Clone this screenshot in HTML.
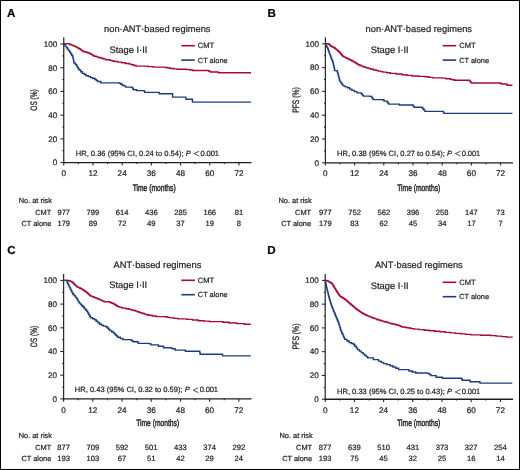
<!DOCTYPE html><html><head><meta charset="utf-8"><style>html,body{margin:0;padding:0;background:#fff;}svg{display:block;will-change:transform;} text{stroke:#231f20;stroke-width:0.22px;}</style></head><body>
<svg width="520" height="470" viewBox="0 0 520 470" font-family="&quot;Liberation Sans&quot;, sans-serif" fill="#231f20" text-rendering="geometricPrecision">
<rect x="0" y="0" width="520" height="470" fill="#fff"/>
<rect x="0.5" y="0.5" width="519" height="469" fill="none" stroke="#000" stroke-width="1"/>
<g><text x="7.00" y="17.10" font-size="11.6" font-weight="bold" fill="#000">A</text>
<text x="157.30" y="31.80" font-size="9.3" text-anchor="middle">non·ANT·based regimens</text>
<text x="109.40" y="52.80" font-size="9.4">Stage I·II</text>
<line x1="181.30" y1="45.70" x2="194.80" y2="45.70" stroke="#a60a33" stroke-width="1.6"/>
<line x1="181.30" y1="60.10" x2="194.80" y2="60.10" stroke="#1f3d7a" stroke-width="1.6"/>
<text x="197.80" y="48.10" font-size="7.6">CMT</text>
<text x="197.80" y="62.70" font-size="7.4">CT alone</text>
<line x1="63.75" y1="37.30" x2="63.75" y2="163.20" stroke="#2a2a2a" stroke-width="1.25"/>
<line x1="63.25" y1="162.60" x2="251.50" y2="162.60" stroke="#1e1e1e" stroke-width="1.35"/>
<line x1="60.45" y1="162.60" x2="63.75" y2="162.60" stroke="#222" stroke-width="1.05"/>
<text x="57.25" y="165.40" font-size="8.1" text-anchor="end">0</text>
<line x1="62.35" y1="150.74" x2="63.75" y2="150.74" stroke="#222" stroke-width="1.05"/>
<line x1="60.45" y1="138.88" x2="63.75" y2="138.88" stroke="#222" stroke-width="1.05"/>
<text x="57.25" y="141.68" font-size="8.1" text-anchor="end">20</text>
<line x1="62.35" y1="127.02" x2="63.75" y2="127.02" stroke="#222" stroke-width="1.05"/>
<line x1="60.45" y1="115.16" x2="63.75" y2="115.16" stroke="#222" stroke-width="1.05"/>
<text x="57.25" y="117.96" font-size="8.1" text-anchor="end">40</text>
<line x1="62.35" y1="103.30" x2="63.75" y2="103.30" stroke="#222" stroke-width="1.05"/>
<line x1="60.45" y1="91.44" x2="63.75" y2="91.44" stroke="#222" stroke-width="1.05"/>
<text x="57.25" y="94.24" font-size="8.1" text-anchor="end">60</text>
<line x1="62.35" y1="79.58" x2="63.75" y2="79.58" stroke="#222" stroke-width="1.05"/>
<line x1="60.45" y1="67.72" x2="63.75" y2="67.72" stroke="#222" stroke-width="1.05"/>
<text x="57.25" y="70.52" font-size="8.1" text-anchor="end">80</text>
<line x1="62.35" y1="55.86" x2="63.75" y2="55.86" stroke="#222" stroke-width="1.05"/>
<line x1="60.45" y1="44.00" x2="63.75" y2="44.00" stroke="#222" stroke-width="1.05"/>
<text x="57.25" y="46.80" font-size="8.1" text-anchor="end">100</text>
<line x1="63.75" y1="162.60" x2="63.75" y2="165.40" stroke="#222" stroke-width="1.05"/>
<text x="63.75" y="176.20" font-size="8.2" text-anchor="middle">0</text>
<line x1="78.35" y1="162.60" x2="78.35" y2="164.00" stroke="#222" stroke-width="1.05"/>
<line x1="92.95" y1="162.60" x2="92.95" y2="165.40" stroke="#222" stroke-width="1.05"/>
<text x="92.95" y="176.20" font-size="8.2" text-anchor="middle">12</text>
<line x1="107.55" y1="162.60" x2="107.55" y2="164.00" stroke="#222" stroke-width="1.05"/>
<line x1="122.15" y1="162.60" x2="122.15" y2="165.40" stroke="#222" stroke-width="1.05"/>
<text x="122.15" y="176.20" font-size="8.2" text-anchor="middle">24</text>
<line x1="136.75" y1="162.60" x2="136.75" y2="164.00" stroke="#222" stroke-width="1.05"/>
<line x1="151.35" y1="162.60" x2="151.35" y2="165.40" stroke="#222" stroke-width="1.05"/>
<text x="151.35" y="176.20" font-size="8.2" text-anchor="middle">36</text>
<line x1="165.95" y1="162.60" x2="165.95" y2="164.00" stroke="#222" stroke-width="1.05"/>
<line x1="180.55" y1="162.60" x2="180.55" y2="165.40" stroke="#222" stroke-width="1.05"/>
<text x="180.55" y="176.20" font-size="8.2" text-anchor="middle">48</text>
<line x1="195.15" y1="162.60" x2="195.15" y2="164.00" stroke="#222" stroke-width="1.05"/>
<line x1="209.75" y1="162.60" x2="209.75" y2="165.40" stroke="#222" stroke-width="1.05"/>
<text x="209.75" y="176.20" font-size="8.2" text-anchor="middle">60</text>
<line x1="224.35" y1="162.60" x2="224.35" y2="164.00" stroke="#222" stroke-width="1.05"/>
<line x1="238.95" y1="162.60" x2="238.95" y2="165.40" stroke="#222" stroke-width="1.05"/>
<text x="238.95" y="176.20" font-size="8.2" text-anchor="middle">72</text>
<text x="154.15" y="190.80" font-size="9.4" text-anchor="middle" textLength="43" lengthAdjust="spacingAndGlyphs" style="stroke-width:0.45px">Time (months)</text>
<text transform="translate(37.20,100.00) rotate(-90)" font-size="9.4" text-anchor="middle" textLength="21.4" lengthAdjust="spacingAndGlyphs" style="stroke-width:0.32px">OS (%)</text>
<text x="75.75" y="155.80" font-size="7.55">HR, 0.36 (95% CI, 0.24 to 0.54); <tspan font-style="italic">P</tspan></text>
<path d="M199.30,151.20 L194.00,153.60 L199.30,156.00" fill="none" stroke="#231f20" stroke-width="0.75"/>
<text x="200.60" y="155.80" font-size="7.55" letter-spacing="-0.15">0.001</text>
<text x="18.70" y="203.20" font-size="7.4">No. at risk</text>
<text x="51.30" y="214.70" font-size="7.4" text-anchor="end">CMT</text>
<text x="51.30" y="226.00" font-size="7.4" text-anchor="end">CT alone</text>
<text x="63.75" y="214.70" font-size="7.6" text-anchor="middle">977</text>
<text x="63.75" y="226.00" font-size="7.6" text-anchor="middle">179</text>
<text x="92.95" y="214.70" font-size="7.6" text-anchor="middle">799</text>
<text x="92.95" y="226.00" font-size="7.6" text-anchor="middle">89</text>
<text x="122.15" y="214.70" font-size="7.6" text-anchor="middle">614</text>
<text x="122.15" y="226.00" font-size="7.6" text-anchor="middle">72</text>
<text x="151.35" y="214.70" font-size="7.6" text-anchor="middle">436</text>
<text x="151.35" y="226.00" font-size="7.6" text-anchor="middle">49</text>
<text x="180.55" y="214.70" font-size="7.6" text-anchor="middle">285</text>
<text x="180.55" y="226.00" font-size="7.6" text-anchor="middle">37</text>
<text x="209.75" y="214.70" font-size="7.6" text-anchor="middle">166</text>
<text x="209.75" y="226.00" font-size="7.6" text-anchor="middle">19</text>
<text x="238.95" y="214.70" font-size="7.6" text-anchor="middle">81</text>
<text x="238.95" y="226.00" font-size="7.6" text-anchor="middle">8</text>
<polyline points="63.80,43.80 67.70,43.80 69.60,43.80 69.60,44.45 71.50,44.45 71.50,45.10 72.77,45.10 72.77,45.60 74.03,45.60 74.03,46.10 75.30,46.10 75.30,46.60 76.25,46.60 76.25,47.12 77.20,47.12 77.20,47.65 78.15,47.65 78.15,48.18 79.10,48.18 79.10,48.70 80.07,48.70 80.07,49.40 81.05,49.40 81.05,50.10 82.03,50.10 82.03,50.80 83.00,50.80 83.00,51.50 84.90,51.50 84.90,52.00 86.80,52.00 86.80,52.50 88.07,52.50 88.07,53.00 89.33,53.00 89.33,53.50 90.60,53.50 90.60,54.00 91.55,54.00 91.55,54.58 92.50,54.58 92.50,55.15 93.45,55.15 93.45,55.72 94.40,55.72 94.40,56.30 96.35,56.30 96.35,56.90 98.30,56.90 98.30,57.50 100.20,57.50 100.20,58.00 102.10,58.00 102.10,58.50 104.00,58.50 104.00,59.15 105.90,59.15 105.90,59.80 110.00,59.80 110.00,60.40 112.10,60.40 112.10,60.95 114.20,60.95 114.20,61.50 117.95,61.50 117.95,62.15 121.70,62.15 121.70,62.80 125.45,62.80 125.45,63.45 129.20,63.45 129.20,64.10 131.50,64.10 131.50,64.77 133.80,64.77 133.80,65.43 136.10,65.43 136.10,66.10 143.10,66.10 148.25,66.10 148.25,66.60 153.40,66.60 153.40,67.10 165.00,67.10 165.00,67.50 167.75,67.50 167.75,68.00 170.50,68.00 170.50,68.50 174.00,68.50 174.00,68.90 177.50,68.90 177.50,69.30 186.90,69.30 186.90,69.60 189.80,69.60 189.80,70.05 192.70,70.05 192.70,70.50 207.60,70.50 208.57,70.50 208.57,71.00 209.53,71.00 209.53,71.50 210.50,71.50 210.50,72.00 217.50,72.00 218.10,72.00 218.10,72.40 218.70,72.40 218.70,72.80 251.00,72.80" fill="none" stroke="#a60a33" stroke-width="1.4" stroke-linejoin="miter"/>
<polyline points="63.80,44.50 65.10,44.50 65.10,46.10 66.40,46.10 66.40,47.70 67.47,47.70 67.47,49.17 68.53,49.17 68.53,50.63 69.60,50.63 69.60,52.10 70.67,52.10 70.67,53.80 71.73,53.80 71.73,55.50 72.80,55.50 72.80,57.20 73.10,57.20 73.10,58.65 73.40,58.65 73.40,60.10 73.70,60.10 73.70,61.55 74.00,61.55 74.00,63.00 75.30,63.00 75.30,64.55 76.60,64.55 76.60,66.10 77.43,66.10 77.43,67.40 78.27,67.40 78.27,68.70 79.10,68.70 79.10,70.00 80.70,70.00 80.70,71.70 82.30,71.70 82.30,73.40 84.20,73.40 84.20,74.55 86.10,74.55 86.10,75.70 88.35,75.70 88.35,76.65 90.60,76.65 90.60,77.60 92.85,77.60 92.85,78.55 95.10,78.55 95.10,79.50 96.35,79.50 96.35,80.50 97.60,80.50 97.60,81.50 100.80,81.50 100.80,82.90 119.40,82.90 119.40,83.20 120.85,83.20 120.85,84.20 122.30,84.20 122.30,85.20 124.05,85.20 124.05,86.15 125.80,86.15 125.80,87.10 132.10,87.10 132.10,87.50 132.70,87.50 132.70,88.65 133.30,88.65 133.30,89.80 136.70,89.80 136.70,90.60 144.20,90.60 144.20,91.30 144.80,91.30 144.80,92.40 158.00,92.40 159.20,92.40 159.20,93.70 172.60,93.70 172.60,97.10 185.70,97.10 185.85,97.10 185.85,98.15 186.00,98.15 186.00,99.20 192.20,99.20 192.35,99.20 192.35,100.65 192.50,100.65 192.50,102.10 251.00,102.10" fill="none" stroke="#1f3d7a" stroke-width="1.4" stroke-linejoin="miter"/></g>
<g><text x="267.50" y="17.10" font-size="11.6" font-weight="bold" fill="#000">B</text>
<text x="418.80" y="32.00" font-size="9.3" text-anchor="middle">non·ANT·based regimens</text>
<text x="370.70" y="52.80" font-size="9.4">Stage I·II</text>
<line x1="442.70" y1="45.70" x2="456.20" y2="45.70" stroke="#a60a33" stroke-width="1.6"/>
<line x1="442.70" y1="60.10" x2="456.20" y2="60.10" stroke="#1f3d7a" stroke-width="1.6"/>
<text x="459.20" y="48.10" font-size="7.6">CMT</text>
<text x="459.20" y="62.70" font-size="7.4">CT alone</text>
<line x1="325.40" y1="37.30" x2="325.40" y2="163.40" stroke="#2a2a2a" stroke-width="1.25"/>
<line x1="324.90" y1="162.80" x2="513.00" y2="162.80" stroke="#1e1e1e" stroke-width="1.35"/>
<line x1="322.10" y1="162.80" x2="325.40" y2="162.80" stroke="#222" stroke-width="1.05"/>
<text x="318.90" y="165.60" font-size="8.1" text-anchor="end">0</text>
<line x1="324.00" y1="150.90" x2="325.40" y2="150.90" stroke="#222" stroke-width="1.05"/>
<line x1="322.10" y1="139.00" x2="325.40" y2="139.00" stroke="#222" stroke-width="1.05"/>
<text x="318.90" y="141.80" font-size="8.1" text-anchor="end">20</text>
<line x1="324.00" y1="127.10" x2="325.40" y2="127.10" stroke="#222" stroke-width="1.05"/>
<line x1="322.10" y1="115.20" x2="325.40" y2="115.20" stroke="#222" stroke-width="1.05"/>
<text x="318.90" y="118.00" font-size="8.1" text-anchor="end">40</text>
<line x1="324.00" y1="103.30" x2="325.40" y2="103.30" stroke="#222" stroke-width="1.05"/>
<line x1="322.10" y1="91.40" x2="325.40" y2="91.40" stroke="#222" stroke-width="1.05"/>
<text x="318.90" y="94.20" font-size="8.1" text-anchor="end">60</text>
<line x1="324.00" y1="79.50" x2="325.40" y2="79.50" stroke="#222" stroke-width="1.05"/>
<line x1="322.10" y1="67.60" x2="325.40" y2="67.60" stroke="#222" stroke-width="1.05"/>
<text x="318.90" y="70.40" font-size="8.1" text-anchor="end">80</text>
<line x1="324.00" y1="55.70" x2="325.40" y2="55.70" stroke="#222" stroke-width="1.05"/>
<line x1="322.10" y1="43.80" x2="325.40" y2="43.80" stroke="#222" stroke-width="1.05"/>
<text x="318.90" y="46.60" font-size="8.1" text-anchor="end">100</text>
<line x1="325.40" y1="162.80" x2="325.40" y2="165.60" stroke="#222" stroke-width="1.05"/>
<text x="325.40" y="176.40" font-size="8.2" text-anchor="middle">0</text>
<line x1="340.00" y1="162.80" x2="340.00" y2="164.20" stroke="#222" stroke-width="1.05"/>
<line x1="354.60" y1="162.80" x2="354.60" y2="165.60" stroke="#222" stroke-width="1.05"/>
<text x="354.60" y="176.40" font-size="8.2" text-anchor="middle">12</text>
<line x1="369.20" y1="162.80" x2="369.20" y2="164.20" stroke="#222" stroke-width="1.05"/>
<line x1="383.80" y1="162.80" x2="383.80" y2="165.60" stroke="#222" stroke-width="1.05"/>
<text x="383.80" y="176.40" font-size="8.2" text-anchor="middle">24</text>
<line x1="398.40" y1="162.80" x2="398.40" y2="164.20" stroke="#222" stroke-width="1.05"/>
<line x1="413.00" y1="162.80" x2="413.00" y2="165.60" stroke="#222" stroke-width="1.05"/>
<text x="413.00" y="176.40" font-size="8.2" text-anchor="middle">36</text>
<line x1="427.60" y1="162.80" x2="427.60" y2="164.20" stroke="#222" stroke-width="1.05"/>
<line x1="442.20" y1="162.80" x2="442.20" y2="165.60" stroke="#222" stroke-width="1.05"/>
<text x="442.20" y="176.40" font-size="8.2" text-anchor="middle">48</text>
<line x1="456.80" y1="162.80" x2="456.80" y2="164.20" stroke="#222" stroke-width="1.05"/>
<line x1="471.40" y1="162.80" x2="471.40" y2="165.60" stroke="#222" stroke-width="1.05"/>
<text x="471.40" y="176.40" font-size="8.2" text-anchor="middle">60</text>
<line x1="486.00" y1="162.80" x2="486.00" y2="164.20" stroke="#222" stroke-width="1.05"/>
<line x1="500.60" y1="162.80" x2="500.60" y2="165.60" stroke="#222" stroke-width="1.05"/>
<text x="500.60" y="176.40" font-size="8.2" text-anchor="middle">72</text>
<text x="418.75" y="190.90" font-size="9.4" text-anchor="middle" textLength="43" lengthAdjust="spacingAndGlyphs" style="stroke-width:0.45px">Time (months)</text>
<text transform="translate(298.50,100.00) rotate(-90)" font-size="9.4" text-anchor="middle" textLength="25.6" lengthAdjust="spacingAndGlyphs" style="stroke-width:0.32px">PFS (%)</text>
<text x="337.00" y="155.80" font-size="7.55">HR, 0.38 (95% CI, 0.27 to 0.54); <tspan font-style="italic">P</tspan></text>
<path d="M460.55,151.20 L455.25,153.60 L460.55,156.00" fill="none" stroke="#231f20" stroke-width="0.75"/>
<text x="461.85" y="155.80" font-size="7.55" letter-spacing="-0.15">0.001</text>
<text x="278.50" y="203.20" font-size="7.4">No. at risk</text>
<text x="311.10" y="214.70" font-size="7.4" text-anchor="end">CMT</text>
<text x="311.10" y="226.00" font-size="7.4" text-anchor="end">CT alone</text>
<text x="325.40" y="214.70" font-size="7.6" text-anchor="middle">977</text>
<text x="325.40" y="226.00" font-size="7.6" text-anchor="middle">179</text>
<text x="354.60" y="214.70" font-size="7.6" text-anchor="middle">752</text>
<text x="354.60" y="226.00" font-size="7.6" text-anchor="middle">83</text>
<text x="383.80" y="214.70" font-size="7.6" text-anchor="middle">562</text>
<text x="383.80" y="226.00" font-size="7.6" text-anchor="middle">62</text>
<text x="413.00" y="214.70" font-size="7.6" text-anchor="middle">396</text>
<text x="413.00" y="226.00" font-size="7.6" text-anchor="middle">45</text>
<text x="442.20" y="214.70" font-size="7.6" text-anchor="middle">258</text>
<text x="442.20" y="226.00" font-size="7.6" text-anchor="middle">34</text>
<text x="471.40" y="214.70" font-size="7.6" text-anchor="middle">147</text>
<text x="471.40" y="226.00" font-size="7.6" text-anchor="middle">17</text>
<text x="500.60" y="214.70" font-size="7.6" text-anchor="middle">73</text>
<text x="500.60" y="226.00" font-size="7.6" text-anchor="middle">7</text>
<polyline points="325.40,43.70 328.30,43.70 328.95,43.70 328.95,44.35 329.60,44.35 329.60,45.00 330.25,45.00 330.25,45.65 330.90,45.65 330.90,46.30 332.17,46.30 332.17,46.93 333.43,46.93 333.43,47.57 334.70,47.57 334.70,48.20 335.45,48.20 335.45,48.83 336.20,48.83 336.20,49.47 336.95,49.47 336.95,50.10 337.70,50.10 337.70,50.73 338.45,50.73 338.45,51.37 339.20,51.37 339.20,52.00 339.74,52.00 339.74,52.64 340.29,52.64 340.29,53.29 340.83,53.29 340.83,53.93 341.37,53.93 341.37,54.57 341.91,54.57 341.91,55.21 342.46,55.21 342.46,55.86 343.00,55.86 343.00,56.50 344.27,56.50 344.27,57.13 345.53,57.13 345.53,57.77 346.80,57.77 346.80,58.40 348.08,58.40 348.08,59.04 349.36,59.04 349.36,59.68 350.64,59.68 350.64,60.32 351.92,60.32 351.92,60.96 353.20,60.96 353.20,61.60 354.22,61.60 354.22,62.24 355.24,62.24 355.24,62.88 356.26,62.88 356.26,63.52 357.28,63.52 357.28,64.16 358.30,64.16 358.30,64.80 359.90,64.80 359.90,65.45 361.50,65.45 361.50,66.10 363.10,66.10 363.10,66.75 364.70,66.75 364.70,67.40 366.83,67.40 366.83,68.03 368.97,68.03 368.97,68.67 371.10,68.67 371.10,69.30 373.65,69.30 373.65,69.95 376.20,69.95 376.20,70.60 378.40,70.60 378.40,71.10 380.60,71.10 380.60,71.60 382.80,71.60 382.80,72.10 386.60,72.10 386.60,72.75 390.40,72.75 390.40,73.40 396.15,73.40 396.15,74.05 401.90,74.05 401.90,74.70 407.00,74.70 407.00,75.35 412.10,75.35 412.10,76.00 418.50,76.00 418.50,76.40 424.90,76.40 424.90,76.80 428.80,76.80 428.80,77.35 432.70,77.35 432.70,77.90 441.60,77.90 441.60,78.10 446.05,78.10 446.05,78.75 450.50,78.75 450.50,79.40 452.45,79.40 452.45,79.80 454.40,79.80 454.40,80.20 468.90,80.20 469.55,80.20 469.55,80.90 470.20,80.90 470.20,81.60 470.85,81.60 470.85,82.30 471.50,82.30 471.50,83.00 499.60,83.00 500.55,83.00 500.55,83.50 501.50,83.50 501.50,84.00 506.00,84.00 506.65,84.00 506.65,84.65 507.30,84.65 507.30,85.30 512.40,85.30" fill="none" stroke="#a60a33" stroke-width="1.4" stroke-linejoin="miter"/>
<polyline points="325.40,44.40 326.17,44.40 326.17,45.90 326.93,45.90 326.93,47.40 327.70,47.40 327.70,48.90 328.32,48.90 328.32,50.65 328.95,50.65 328.95,52.40 329.57,52.40 329.57,54.15 330.20,54.15 330.20,55.90 330.85,55.90 330.85,57.50 331.50,57.50 331.50,59.10 332.15,59.10 332.15,60.70 332.80,60.70 332.80,62.30 333.18,62.30 333.18,63.96 333.56,63.96 333.56,65.62 333.94,65.62 333.94,67.28 334.32,67.28 334.32,68.94 334.70,68.94 334.70,70.60 337.20,70.60 337.20,71.80 337.63,71.80 337.63,73.40 338.07,73.40 338.07,75.00 338.50,75.00 338.50,76.60 338.93,76.60 338.93,78.20 339.37,78.20 339.37,79.80 339.80,79.80 339.80,81.40 340.87,81.40 340.87,82.90 341.93,82.90 341.93,84.40 343.00,84.40 343.00,85.90 345.25,85.90 345.25,86.85 347.50,86.85 347.50,87.80 349.70,87.80 349.70,89.10 351.90,89.10 351.90,90.40 354.45,90.40 354.45,91.65 357.00,91.65 357.00,92.90 361.50,92.90 361.50,94.20 362.45,94.20 362.45,95.15 363.40,95.15 363.40,96.10 370.00,96.10 370.00,96.40 371.90,96.40 371.90,97.70 372.55,97.70 372.55,98.65 373.20,98.65 373.20,99.60 382.10,99.60 382.10,99.80 384.00,99.80 384.00,101.10 386.60,101.10 386.60,101.50 387.55,101.50 387.55,102.80 388.50,102.80 388.50,104.10 397.50,104.10 399.40,104.10 399.40,105.00 412.10,105.00 413.10,105.00 413.10,106.15 414.10,106.15 414.10,107.30 421.70,107.30 421.70,107.50 422.77,107.50 422.77,108.80 423.83,108.80 423.83,110.10 424.90,110.10 424.90,111.40 442.90,111.40 443.40,111.40 443.40,112.40 443.90,112.40 443.90,113.40 512.40,113.40" fill="none" stroke="#1f3d7a" stroke-width="1.4" stroke-linejoin="miter"/></g>
<g><text x="7.20" y="253.80" font-size="11.6" font-weight="bold" fill="#000">C</text>
<text x="157.40" y="268.10" font-size="9.3" text-anchor="middle">ANT·based regimens</text>
<text x="109.20" y="287.80" font-size="9.4">Stage I·II</text>
<line x1="181.30" y1="280.30" x2="194.80" y2="280.30" stroke="#a60a33" stroke-width="1.6"/>
<line x1="181.30" y1="294.70" x2="194.80" y2="294.70" stroke="#1f3d7a" stroke-width="1.6"/>
<text x="197.80" y="282.70" font-size="7.6">CMT</text>
<text x="197.80" y="297.30" font-size="7.4">CT alone</text>
<line x1="63.60" y1="274.00" x2="63.60" y2="399.50" stroke="#2a2a2a" stroke-width="1.25"/>
<line x1="63.10" y1="398.90" x2="251.50" y2="398.90" stroke="#1e1e1e" stroke-width="1.35"/>
<line x1="60.30" y1="398.90" x2="63.60" y2="398.90" stroke="#222" stroke-width="1.05"/>
<text x="57.10" y="401.70" font-size="8.1" text-anchor="end">0</text>
<line x1="62.20" y1="387.05" x2="63.60" y2="387.05" stroke="#222" stroke-width="1.05"/>
<line x1="60.30" y1="375.20" x2="63.60" y2="375.20" stroke="#222" stroke-width="1.05"/>
<text x="57.10" y="378.00" font-size="8.1" text-anchor="end">20</text>
<line x1="62.20" y1="363.35" x2="63.60" y2="363.35" stroke="#222" stroke-width="1.05"/>
<line x1="60.30" y1="351.50" x2="63.60" y2="351.50" stroke="#222" stroke-width="1.05"/>
<text x="57.10" y="354.30" font-size="8.1" text-anchor="end">40</text>
<line x1="62.20" y1="339.65" x2="63.60" y2="339.65" stroke="#222" stroke-width="1.05"/>
<line x1="60.30" y1="327.80" x2="63.60" y2="327.80" stroke="#222" stroke-width="1.05"/>
<text x="57.10" y="330.60" font-size="8.1" text-anchor="end">60</text>
<line x1="62.20" y1="315.95" x2="63.60" y2="315.95" stroke="#222" stroke-width="1.05"/>
<line x1="60.30" y1="304.10" x2="63.60" y2="304.10" stroke="#222" stroke-width="1.05"/>
<text x="57.10" y="306.90" font-size="8.1" text-anchor="end">80</text>
<line x1="62.20" y1="292.25" x2="63.60" y2="292.25" stroke="#222" stroke-width="1.05"/>
<line x1="60.30" y1="280.40" x2="63.60" y2="280.40" stroke="#222" stroke-width="1.05"/>
<text x="57.10" y="283.20" font-size="8.1" text-anchor="end">100</text>
<line x1="63.60" y1="398.90" x2="63.60" y2="401.70" stroke="#222" stroke-width="1.05"/>
<text x="63.60" y="412.50" font-size="8.2" text-anchor="middle">0</text>
<line x1="78.20" y1="398.90" x2="78.20" y2="400.30" stroke="#222" stroke-width="1.05"/>
<line x1="92.80" y1="398.90" x2="92.80" y2="401.70" stroke="#222" stroke-width="1.05"/>
<text x="92.80" y="412.50" font-size="8.2" text-anchor="middle">12</text>
<line x1="107.40" y1="398.90" x2="107.40" y2="400.30" stroke="#222" stroke-width="1.05"/>
<line x1="122.00" y1="398.90" x2="122.00" y2="401.70" stroke="#222" stroke-width="1.05"/>
<text x="122.00" y="412.50" font-size="8.2" text-anchor="middle">24</text>
<line x1="136.60" y1="398.90" x2="136.60" y2="400.30" stroke="#222" stroke-width="1.05"/>
<line x1="151.20" y1="398.90" x2="151.20" y2="401.70" stroke="#222" stroke-width="1.05"/>
<text x="151.20" y="412.50" font-size="8.2" text-anchor="middle">36</text>
<line x1="165.80" y1="398.90" x2="165.80" y2="400.30" stroke="#222" stroke-width="1.05"/>
<line x1="180.40" y1="398.90" x2="180.40" y2="401.70" stroke="#222" stroke-width="1.05"/>
<text x="180.40" y="412.50" font-size="8.2" text-anchor="middle">48</text>
<line x1="195.00" y1="398.90" x2="195.00" y2="400.30" stroke="#222" stroke-width="1.05"/>
<line x1="209.60" y1="398.90" x2="209.60" y2="401.70" stroke="#222" stroke-width="1.05"/>
<text x="209.60" y="412.50" font-size="8.2" text-anchor="middle">60</text>
<line x1="224.20" y1="398.90" x2="224.20" y2="400.30" stroke="#222" stroke-width="1.05"/>
<line x1="238.80" y1="398.90" x2="238.80" y2="401.70" stroke="#222" stroke-width="1.05"/>
<text x="238.80" y="412.50" font-size="8.2" text-anchor="middle">72</text>
<text x="157.70" y="426.00" font-size="9.4" text-anchor="middle" textLength="43" lengthAdjust="spacingAndGlyphs" style="stroke-width:0.45px">Time (months)</text>
<text transform="translate(37.20,336.60) rotate(-90)" font-size="9.4" text-anchor="middle" textLength="21.4" lengthAdjust="spacingAndGlyphs" style="stroke-width:0.32px">OS (%)</text>
<text x="74.80" y="392.40" font-size="7.55">HR, 0.43 (95% CI, 0.32 to 0.59); <tspan font-style="italic">P</tspan></text>
<path d="M198.35,387.80 L193.05,390.20 L198.35,392.60" fill="none" stroke="#231f20" stroke-width="0.75"/>
<text x="199.65" y="392.40" font-size="7.55" letter-spacing="-0.15">0.001</text>
<text x="18.70" y="438.00" font-size="7.4">No. at risk</text>
<text x="51.30" y="449.50" font-size="7.4" text-anchor="end">CMT</text>
<text x="51.30" y="460.80" font-size="7.4" text-anchor="end">CT alone</text>
<text x="63.60" y="449.50" font-size="7.6" text-anchor="middle">877</text>
<text x="63.60" y="460.80" font-size="7.6" text-anchor="middle">193</text>
<text x="92.80" y="449.50" font-size="7.6" text-anchor="middle">709</text>
<text x="92.80" y="460.80" font-size="7.6" text-anchor="middle">103</text>
<text x="122.00" y="449.50" font-size="7.6" text-anchor="middle">592</text>
<text x="122.00" y="460.80" font-size="7.6" text-anchor="middle">67</text>
<text x="151.20" y="449.50" font-size="7.6" text-anchor="middle">501</text>
<text x="151.20" y="460.80" font-size="7.6" text-anchor="middle">51</text>
<text x="180.40" y="449.50" font-size="7.6" text-anchor="middle">433</text>
<text x="180.40" y="460.80" font-size="7.6" text-anchor="middle">42</text>
<text x="209.60" y="449.50" font-size="7.6" text-anchor="middle">374</text>
<text x="209.60" y="460.80" font-size="7.6" text-anchor="middle">29</text>
<text x="238.80" y="449.50" font-size="7.6" text-anchor="middle">292</text>
<text x="238.80" y="460.80" font-size="7.6" text-anchor="middle">24</text>
<polyline points="63.80,280.40 68.90,280.40 68.90,280.70 70.20,280.70 70.20,281.37 71.50,281.37 71.50,282.03 72.80,282.03 72.80,282.70 73.43,282.70 73.43,283.33 74.06,283.33 74.06,283.96 74.69,283.96 74.69,284.59 75.31,284.59 75.31,285.21 75.94,285.21 75.94,285.84 76.57,285.84 76.57,286.47 77.20,286.47 77.20,287.10 78.50,287.10 78.50,287.67 79.80,287.67 79.80,288.23 81.10,288.23 81.10,288.80 81.98,288.80 81.98,289.36 82.86,289.36 82.86,289.92 83.74,289.92 83.74,290.48 84.62,290.48 84.62,291.04 85.50,291.04 85.50,291.60 86.23,291.60 86.23,292.24 86.96,292.24 86.96,292.89 87.69,292.89 87.69,293.53 88.41,293.53 88.41,294.17 89.14,294.17 89.14,294.81 89.87,294.81 89.87,295.46 90.60,295.46 90.60,296.10 92.20,296.10 92.20,296.73 93.80,296.73 93.80,297.35 95.40,297.35 95.40,297.98 97.00,297.98 97.00,298.60 98.42,298.60 98.42,299.24 99.84,299.24 99.84,299.88 101.26,299.88 101.26,300.52 102.68,300.52 102.68,301.16 104.10,301.16 104.10,301.80 110.00,301.80 110.00,302.50 111.27,302.50 111.27,303.00 112.53,303.00 112.53,303.50 113.80,303.50 113.80,304.00 114.78,304.00 114.78,304.65 115.75,304.65 115.75,305.30 116.72,305.30 116.72,305.95 117.70,305.95 117.70,306.60 119.40,306.60 119.40,307.10 121.10,307.10 121.10,307.60 122.80,307.60 122.80,308.10 126.00,308.10 126.00,308.75 129.20,308.75 129.20,309.40 131.30,309.40 131.30,309.97 133.40,309.97 133.40,310.53 135.50,310.53 135.50,311.10 137.23,311.10 137.23,311.73 138.97,311.73 138.97,312.37 140.70,312.37 140.70,313.00 142.60,313.00 142.60,313.57 144.50,313.57 144.50,314.15 146.40,314.15 146.40,314.73 148.30,314.73 148.30,315.30 152.15,315.30 152.15,315.95 156.00,315.95 156.00,316.60 164.90,316.60 164.90,316.80 167.50,316.80 167.50,317.35 170.10,317.35 170.10,317.90 173.95,317.90 173.95,318.40 177.80,318.40 177.80,318.90 186.70,318.90 186.70,319.40 192.45,319.40 192.45,320.05 198.20,320.05 198.20,320.70 203.95,320.70 203.95,321.15 209.70,321.15 209.70,321.60 222.80,321.60 222.80,322.30 229.10,322.30 229.10,323.00 236.80,323.00 236.80,323.60 244.40,323.60 244.40,324.20 250.80,324.20" fill="none" stroke="#a60a33" stroke-width="1.4" stroke-linejoin="miter"/>
<polyline points="63.80,280.40 67.00,280.40 67.00,282.00 67.65,282.00 67.65,283.45 68.30,283.45 68.30,284.90 68.95,284.90 68.95,286.35 69.60,286.35 69.60,287.80 70.40,287.80 70.40,289.40 71.20,289.40 71.20,291.00 72.00,291.00 72.00,292.60 72.80,292.60 72.80,294.20 74.07,294.20 74.07,295.67 75.33,295.67 75.33,297.13 76.60,297.13 76.60,298.60 77.47,298.60 77.47,300.10 78.33,300.10 78.33,301.60 79.20,301.60 79.20,303.10 80.47,303.10 80.47,304.40 81.73,304.40 81.73,305.70 83.00,305.70 83.00,307.00 84.27,307.00 84.27,308.47 85.53,308.47 85.53,309.93 86.80,309.93 86.80,311.40 87.75,311.40 87.75,313.00 88.70,313.00 88.70,314.60 89.65,314.60 89.65,316.20 90.60,316.20 90.60,317.80 92.55,317.80 92.55,318.75 94.50,318.75 94.50,319.70 96.20,319.70 96.20,321.20 97.90,321.20 97.90,322.70 99.60,322.70 99.60,324.20 101.50,324.20 101.50,325.15 103.40,325.15 103.40,326.10 106.00,326.10 106.00,326.70 107.27,326.70 107.27,328.00 108.53,328.00 108.53,329.30 109.80,329.30 109.80,330.60 111.80,330.60 111.80,332.00 113.80,332.00 113.80,333.40 115.10,333.40 115.10,334.70 116.40,334.70 116.40,336.00 117.70,336.00 117.70,337.30 120.25,337.30 120.25,338.45 122.80,338.45 122.80,339.60 130.40,339.60 130.40,339.80 131.70,339.80 131.70,340.75 133.00,340.75 133.00,341.70 138.10,341.70 138.10,343.40 148.30,343.40 148.30,343.60 150.90,343.60 150.90,344.90 158.50,344.90 158.50,346.20 163.60,346.20 163.60,347.70 170.70,347.70 170.70,347.90 172.00,347.90 172.00,348.80 175.20,348.80 175.20,350.10 184.20,350.10 185.40,350.10 185.40,351.30 199.50,351.30 199.80,351.30 199.80,352.80 200.10,352.80 200.10,354.30 221.80,354.30 222.50,354.30 222.50,355.90 250.80,355.90" fill="none" stroke="#1f3d7a" stroke-width="1.4" stroke-linejoin="miter"/></g>
<g><text x="267.30" y="253.80" font-size="11.6" font-weight="bold" fill="#000">D</text>
<text x="418.80" y="268.10" font-size="9.3" text-anchor="middle">ANT·based regimens</text>
<text x="370.70" y="289.20" font-size="9.4">Stage I·II</text>
<line x1="442.70" y1="282.30" x2="456.20" y2="282.30" stroke="#a60a33" stroke-width="1.6"/>
<line x1="442.70" y1="296.70" x2="456.20" y2="296.70" stroke="#1f3d7a" stroke-width="1.6"/>
<text x="459.20" y="284.70" font-size="7.6">CMT</text>
<text x="459.20" y="299.30" font-size="7.4">CT alone</text>
<line x1="325.20" y1="274.00" x2="325.20" y2="399.80" stroke="#2a2a2a" stroke-width="1.25"/>
<line x1="324.70" y1="399.20" x2="513.00" y2="399.20" stroke="#1e1e1e" stroke-width="1.35"/>
<line x1="321.90" y1="399.20" x2="325.20" y2="399.20" stroke="#222" stroke-width="1.05"/>
<text x="318.70" y="402.00" font-size="8.1" text-anchor="end">0</text>
<line x1="323.80" y1="387.32" x2="325.20" y2="387.32" stroke="#222" stroke-width="1.05"/>
<line x1="321.90" y1="375.44" x2="325.20" y2="375.44" stroke="#222" stroke-width="1.05"/>
<text x="318.70" y="378.24" font-size="8.1" text-anchor="end">20</text>
<line x1="323.80" y1="363.56" x2="325.20" y2="363.56" stroke="#222" stroke-width="1.05"/>
<line x1="321.90" y1="351.68" x2="325.20" y2="351.68" stroke="#222" stroke-width="1.05"/>
<text x="318.70" y="354.48" font-size="8.1" text-anchor="end">40</text>
<line x1="323.80" y1="339.80" x2="325.20" y2="339.80" stroke="#222" stroke-width="1.05"/>
<line x1="321.90" y1="327.92" x2="325.20" y2="327.92" stroke="#222" stroke-width="1.05"/>
<text x="318.70" y="330.72" font-size="8.1" text-anchor="end">60</text>
<line x1="323.80" y1="316.04" x2="325.20" y2="316.04" stroke="#222" stroke-width="1.05"/>
<line x1="321.90" y1="304.16" x2="325.20" y2="304.16" stroke="#222" stroke-width="1.05"/>
<text x="318.70" y="306.96" font-size="8.1" text-anchor="end">80</text>
<line x1="323.80" y1="292.28" x2="325.20" y2="292.28" stroke="#222" stroke-width="1.05"/>
<line x1="321.90" y1="280.40" x2="325.20" y2="280.40" stroke="#222" stroke-width="1.05"/>
<text x="318.70" y="283.20" font-size="8.1" text-anchor="end">100</text>
<line x1="325.20" y1="399.20" x2="325.20" y2="402.00" stroke="#222" stroke-width="1.05"/>
<text x="325.20" y="412.80" font-size="8.2" text-anchor="middle">0</text>
<line x1="339.80" y1="399.20" x2="339.80" y2="400.60" stroke="#222" stroke-width="1.05"/>
<line x1="354.40" y1="399.20" x2="354.40" y2="402.00" stroke="#222" stroke-width="1.05"/>
<text x="354.40" y="412.80" font-size="8.2" text-anchor="middle">12</text>
<line x1="369.00" y1="399.20" x2="369.00" y2="400.60" stroke="#222" stroke-width="1.05"/>
<line x1="383.60" y1="399.20" x2="383.60" y2="402.00" stroke="#222" stroke-width="1.05"/>
<text x="383.60" y="412.80" font-size="8.2" text-anchor="middle">24</text>
<line x1="398.20" y1="399.20" x2="398.20" y2="400.60" stroke="#222" stroke-width="1.05"/>
<line x1="412.80" y1="399.20" x2="412.80" y2="402.00" stroke="#222" stroke-width="1.05"/>
<text x="412.80" y="412.80" font-size="8.2" text-anchor="middle">36</text>
<line x1="427.40" y1="399.20" x2="427.40" y2="400.60" stroke="#222" stroke-width="1.05"/>
<line x1="442.00" y1="399.20" x2="442.00" y2="402.00" stroke="#222" stroke-width="1.05"/>
<text x="442.00" y="412.80" font-size="8.2" text-anchor="middle">48</text>
<line x1="456.60" y1="399.20" x2="456.60" y2="400.60" stroke="#222" stroke-width="1.05"/>
<line x1="471.20" y1="399.20" x2="471.20" y2="402.00" stroke="#222" stroke-width="1.05"/>
<text x="471.20" y="412.80" font-size="8.2" text-anchor="middle">60</text>
<line x1="485.80" y1="399.20" x2="485.80" y2="400.60" stroke="#222" stroke-width="1.05"/>
<line x1="500.40" y1="399.20" x2="500.40" y2="402.00" stroke="#222" stroke-width="1.05"/>
<text x="500.40" y="412.80" font-size="8.2" text-anchor="middle">72</text>
<text x="418.75" y="426.00" font-size="9.4" text-anchor="middle" textLength="43" lengthAdjust="spacingAndGlyphs" style="stroke-width:0.45px">Time (months)</text>
<text transform="translate(298.50,336.40) rotate(-90)" font-size="9.4" text-anchor="middle" textLength="25.6" lengthAdjust="spacingAndGlyphs" style="stroke-width:0.32px">PFS (%)</text>
<text x="337.00" y="394.10" font-size="7.55">HR, 0.33 (95% CI, 0.25 to 0.43); <tspan font-style="italic">P</tspan></text>
<path d="M460.55,389.50 L455.25,391.90 L460.55,394.30" fill="none" stroke="#231f20" stroke-width="0.75"/>
<text x="461.85" y="394.10" font-size="7.55" letter-spacing="-0.15">0.001</text>
<text x="279.50" y="438.00" font-size="7.4">No. at risk</text>
<text x="312.10" y="449.50" font-size="7.4" text-anchor="end">CMT</text>
<text x="312.10" y="460.80" font-size="7.4" text-anchor="end">CT alone</text>
<text x="325.20" y="449.50" font-size="7.6" text-anchor="middle">877</text>
<text x="325.20" y="460.80" font-size="7.6" text-anchor="middle">193</text>
<text x="354.40" y="449.50" font-size="7.6" text-anchor="middle">639</text>
<text x="354.40" y="460.80" font-size="7.6" text-anchor="middle">75</text>
<text x="383.60" y="449.50" font-size="7.6" text-anchor="middle">510</text>
<text x="383.60" y="460.80" font-size="7.6" text-anchor="middle">45</text>
<text x="412.80" y="449.50" font-size="7.6" text-anchor="middle">431</text>
<text x="412.80" y="460.80" font-size="7.6" text-anchor="middle">32</text>
<text x="442.00" y="449.50" font-size="7.6" text-anchor="middle">373</text>
<text x="442.00" y="460.80" font-size="7.6" text-anchor="middle">25</text>
<text x="471.20" y="449.50" font-size="7.6" text-anchor="middle">327</text>
<text x="471.20" y="460.80" font-size="7.6" text-anchor="middle">16</text>
<text x="500.40" y="449.50" font-size="7.6" text-anchor="middle">254</text>
<text x="500.40" y="460.80" font-size="7.6" text-anchor="middle">14</text>
<polyline points="325.10,280.40 326.40,280.40 326.40,280.75 327.70,280.75 327.70,281.10 328.80,281.10 328.80,281.80 329.90,281.80 329.90,282.50 331.00,282.50 331.00,283.20 332.10,283.20 332.10,283.90 332.49,283.90 332.49,284.54 332.88,284.54 332.88,285.18 333.27,285.18 333.27,285.82 333.66,285.82 333.66,286.46 334.05,286.46 334.05,287.10 334.44,287.10 334.44,287.74 334.83,287.74 334.83,288.38 335.22,288.38 335.22,289.02 335.61,289.02 335.61,289.66 336.00,289.66 336.00,290.30 336.42,290.30 336.42,290.94 336.84,290.94 336.84,291.59 337.27,291.59 337.27,292.23 337.69,292.23 337.69,292.88 338.11,292.88 338.11,293.52 338.53,293.52 338.53,294.17 338.96,294.17 338.96,294.81 339.38,294.81 339.38,295.46 339.80,295.46 339.80,296.10 340.75,296.10 340.75,296.73 341.70,296.73 341.70,297.37 342.65,297.37 342.65,298.00 343.60,298.00 343.60,298.63 344.55,298.63 344.55,299.27 345.50,299.27 345.50,299.90 346.24,299.90 346.24,300.54 346.99,300.54 346.99,301.19 347.73,301.19 347.73,301.83 348.47,301.83 348.47,302.47 349.21,302.47 349.21,303.11 349.96,303.11 349.96,303.76 350.70,303.76 350.70,304.40 351.43,304.40 351.43,305.03 352.16,305.03 352.16,305.66 352.89,305.66 352.89,306.29 353.61,306.29 353.61,306.91 354.34,306.91 354.34,307.54 355.07,307.54 355.07,308.17 355.80,308.17 355.80,308.80 356.70,308.80 356.70,309.44 357.60,309.44 357.60,310.09 358.50,310.09 358.50,310.73 359.40,310.73 359.40,311.37 360.30,311.37 360.30,312.01 361.20,312.01 361.20,312.66 362.10,312.66 362.10,313.30 363.40,313.30 363.40,313.95 364.70,313.95 364.70,314.60 366.00,314.60 366.00,315.25 367.30,315.25 367.30,315.90 368.88,315.90 368.88,316.52 370.45,316.52 370.45,317.15 372.03,317.15 372.03,317.77 373.60,317.77 373.60,318.40 375.20,318.40 375.20,318.92 376.80,318.92 376.80,319.45 378.40,319.45 378.40,319.98 380.00,319.98 380.00,320.50 382.00,320.50 382.00,321.10 384.00,321.10 384.00,321.70 386.00,321.70 386.00,322.30 388.00,322.30 388.00,322.90 390.00,322.90 390.00,323.50 392.30,323.50 392.30,324.00 394.60,324.00 394.60,324.50 396.90,324.50 396.90,325.00 398.60,325.00 398.60,325.67 400.30,325.67 400.30,326.33 402.00,326.33 402.00,327.00 405.00,327.00 405.00,327.52 408.00,327.52 408.00,328.05 411.00,328.05 411.00,328.58 414.00,328.58 414.00,329.10 419.10,329.10 419.10,329.67 424.20,329.67 424.20,330.23 429.30,330.23 429.30,330.80 434.65,330.80 434.65,331.30 440.00,331.30 440.00,331.80 445.13,331.80 445.13,332.33 450.27,332.33 450.27,332.87 455.40,332.87 455.40,333.40 460.53,333.40 460.53,333.90 465.67,333.90 465.67,334.40 470.80,334.40 470.80,334.90 480.80,334.90 480.80,335.25 490.80,335.25 490.80,335.60 496.15,335.60 496.15,336.10 501.50,336.10 501.50,336.60 506.80,336.60 506.80,337.10 512.10,337.10 512.10,337.60" fill="none" stroke="#a60a33" stroke-width="1.4" stroke-linejoin="miter"/>
<polyline points="325.10,280.40 325.40,280.40 325.40,281.92 325.70,281.92 325.70,283.44 326.00,283.44 326.00,284.96 326.30,284.96 326.30,286.48 326.60,286.48 326.60,288.00 327.04,288.00 327.04,289.80 327.48,289.80 327.48,291.60 327.92,291.60 327.92,293.40 328.36,293.40 328.36,295.20 328.80,295.20 328.80,297.00 329.30,297.00 329.30,298.70 329.80,298.70 329.80,300.40 330.30,300.40 330.30,302.10 330.80,302.10 330.80,303.80 331.30,303.80 331.30,305.50 331.88,305.50 331.88,306.98 332.45,306.98 332.45,308.45 333.03,308.45 333.03,309.92 333.60,309.92 333.60,311.40 334.20,311.40 334.20,312.82 334.80,312.82 334.80,314.25 335.40,314.25 335.40,315.68 336.00,315.68 336.00,317.10 336.60,317.10 336.60,318.53 337.20,318.53 337.20,319.95 337.80,319.95 337.80,321.38 338.40,321.38 338.40,322.80 338.90,322.80 338.90,324.46 339.40,324.46 339.40,326.12 339.90,326.12 339.90,327.78 340.40,327.78 340.40,329.44 340.90,329.44 340.90,331.10 341.66,331.10 341.66,332.76 342.42,332.76 342.42,334.42 343.18,334.42 343.18,336.08 343.94,336.08 343.94,337.74 344.70,337.74 344.70,339.40 346.95,339.40 346.95,341.00 349.20,341.00 349.20,342.60 351.40,342.60 351.40,343.55 353.60,343.55 353.60,344.50 354.90,344.50 354.90,346.20 356.20,346.20 356.20,347.90 357.50,347.90 357.50,349.60 359.40,349.60 359.40,351.10 361.30,351.10 361.30,352.60 363.20,352.60 363.20,354.10 364.70,354.10 364.70,355.37 366.20,355.37 366.20,356.63 367.70,356.63 367.70,357.90 373.40,357.90 373.40,359.60 378.50,359.60 378.50,361.10 381.05,361.10 381.05,362.35 383.60,362.35 383.60,363.60 386.85,363.60 386.85,364.65 390.10,364.65 390.10,365.70 392.93,365.70 392.93,367.00 395.77,367.00 395.77,368.30 398.60,368.30 398.60,369.60 408.90,369.60 408.90,371.00 412.30,371.00 412.30,372.00 415.70,372.00 415.70,373.00 427.60,373.00 427.60,373.40 429.30,373.40 429.30,374.50 431.00,374.50 431.00,375.60 436.10,375.60 436.10,377.30 442.30,377.30 442.30,378.20 460.80,378.20 461.55,378.20 461.55,379.25 462.30,379.25 462.30,380.30 468.50,380.30 470.00,380.30 470.00,381.80 479.20,381.80 480.00,381.80 480.00,383.10 512.30,383.10" fill="none" stroke="#1f3d7a" stroke-width="1.4" stroke-linejoin="miter"/></g>
</svg></body></html>
